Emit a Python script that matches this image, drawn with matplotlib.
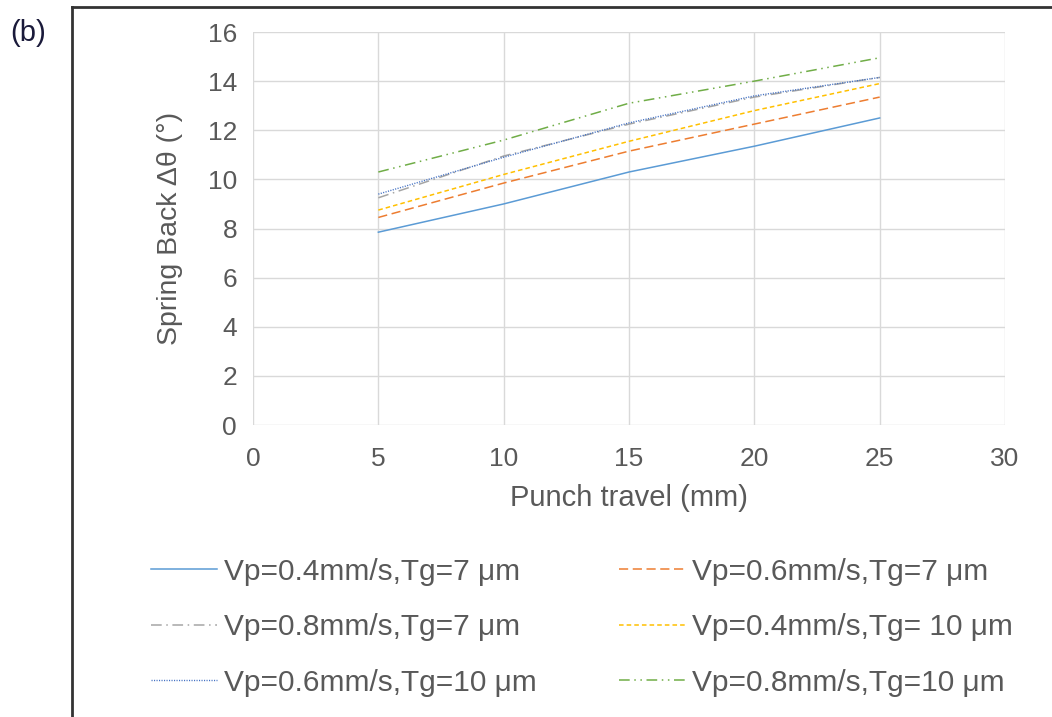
import matplotlib
matplotlib.use("Agg")
import matplotlib.pyplot as plt
from matplotlib.lines import Line2D

punch_travel = [5, 10, 15, 20, 25]
s_04_7 = [7.85, 9.0, 10.3, 11.35, 12.5]
s_06_7 = [8.45, 9.85, 11.15, 12.25, 13.35]
s_08_7 = [9.25, 10.95, 12.25, 13.35, 14.15]
s_04_10 = [8.75, 10.2, 11.55, 12.8, 13.9]
s_06_10 = [9.4, 10.9, 12.3, 13.4, 14.15]
s_08_10 = [10.3, 11.6, 13.1, 14.0, 14.95]

labels = ["Vp=0.4mm/s,Tg=7 μm", "Vp=0.6mm/s,Tg=7 μm", "Vp=0.8mm/s,Tg=7 μm",
          "Vp=0.4mm/s,Tg= 10 μm", "Vp=0.6mm/s,Tg=10 μm", "Vp=0.8mm/s,Tg=10 μm"]
x_ticks = [0, 5, 10, 15, 20, 25, 30]
y_ticks = [0, 2, 4, 6, 8, 10, 12, 14, 16]

plt.rcParams['font.family'] = ['Liberation Sans', 'DejaVu Sans']
txt = '#595959'
fs_tick = 19
fs_lab = 21
fs_leg = 21.5

fig = plt.figure(figsize=(10.52, 7.17), dpi=100)
ax = fig.add_axes([253/1052, 1-425/717, (1005-253)/1052, (425-32)/717])

series = [s_04_7, s_06_7, s_08_7, s_04_10, s_06_10, s_08_10]
colors = ['#5B9BD5', '#ED7D31', '#A5A5A5', '#FFC000', '#4472C4', '#70AD47']
styles = ['-', (0, (6, 3)), (0, (7, 3, 1, 3)), (0, (3, 2)), (0, (0.8, 1.0)), (0, (7, 3, 1, 3, 1, 3))]
widths = [1.1, 1.1, 1.1, 1.1, 1.0, 1.1]
handles = []
for ys, c, ls, lw, lab in zip(series, colors, styles, widths, labels):
    h, = ax.plot(punch_travel, ys, color=c, linestyle=ls, linewidth=lw, label=lab)
    handles.append(h)

ax.set_xlim(0, 30)
ax.set_ylim(0, 16)
ax.set_xticks(x_ticks)
ax.set_yticks(y_ticks)
ax.grid(True, color='#d9d9d9', linewidth=1.0)
ax.set_axisbelow(True)
for s in ax.spines.values():
    s.set_visible(False)
ax.tick_params(length=0, labelsize=fs_tick, labelcolor=txt)
ax.tick_params(axis='x', pad=16)
ax.tick_params(axis='y', pad=11.5)
ax.set_xlabel("Punch travel (mm)", fontsize=fs_lab, color=txt)
ax.set_ylabel("Spring Back Δθ (°)", fontsize=20.5, color=txt)
ax.xaxis.set_label_coords(0.5, (425-484)/393)
ax.yaxis.set_label_coords((183-253)/752, 0.5)

order = [0, 2, 4, 1, 3, 5]
leg = fig.legend([handles[i] for i in order], [labels[i] for i in order],
                 ncol=2, frameon=False, fontsize=fs_leg, labelcolor=txt,
                 loc='upper left', bbox_to_anchor=(124/1052, 1-531/717),
                 handlelength=2.2, handletextpad=0.25, columnspacing=2.75,
                 labelspacing=0.92)

# outer frame (left and top border)
fig.add_artist(Line2D([72/1052, 72/1052], [0, 1-7/717], color='#333333', linewidth=2.0))
fig.add_artist(Line2D([72/1052, 1], [1-7/717, 1-7/717], color='#333333', linewidth=2.0))
fig.text(10/1052, 1-33/717, "(b)", fontsize=21, color='#1a1a3a', va='center', ha='left')

fig.savefig("out.png", dpi=100)
